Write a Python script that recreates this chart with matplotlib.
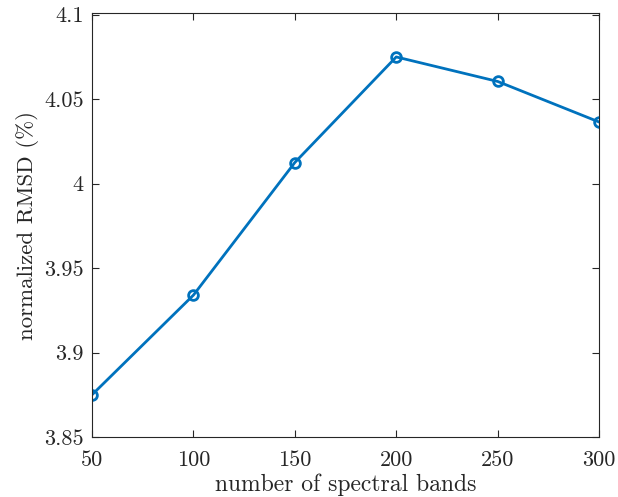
import matplotlib
matplotlib.use("Agg")
import matplotlib.pyplot as plt

bands = [50, 100, 150, 200, 250, 300]
rmsd = [3.875, 3.934, 4.0125, 4.075, 4.0605, 4.0365]
xticks = [50, 100, 150, 200, 250, 300]
xtick_labels = ["50", "100", "150", "200", "250", "300"]
yticks = [3.85, 3.9, 3.95, 4.0, 4.05, 4.1]
ytick_labels = ["3.85", "3.9", "3.95", "4", "4.05", "4.1"]

plt.rcParams['font.family'] = 'serif'
plt.rcParams['font.serif'] = ['cmr10', 'DejaVu Serif']
plt.rcParams['axes.unicode_minus'] = False

fig = plt.figure(figsize=(6.18, 4.97), dpi=100)
ax = fig.add_axes([0.1489, 0.1207, 0.8204, 0.8531])
ax.plot(bands, rmsd, color='#0072BD', linewidth=2, marker='o', markersize=7,
        markerfacecolor='none', markeredgewidth=2)
ax.set_xlim(50, 300)
ax.set_ylim(3.85, 4.101)
ax.set_xticks(xticks)
ax.set_xticklabels(xtick_labels)
ax.set_yticks(yticks)
ax.set_yticklabels(ytick_labels)
ax.tick_params(direction='in', top=True, right=True, labelsize=16, length=5,
               width=0.8, colors='#262626', labelcolor='#262626')
ax.tick_params(axis='x', pad=10)
ax.tick_params(axis='y', pad=6)
for s in ax.spines.values():
    s.set_linewidth(0.8)
    s.set_color('#262626')
ax.set_xlabel('number of spectral bands', fontsize=17, color='#262626', labelpad=2)
ax.set_ylabel('normalized RMSD (%)', fontsize=16.5, color='#262626', labelpad=4)
fig.savefig('out.png', dpi=100)
